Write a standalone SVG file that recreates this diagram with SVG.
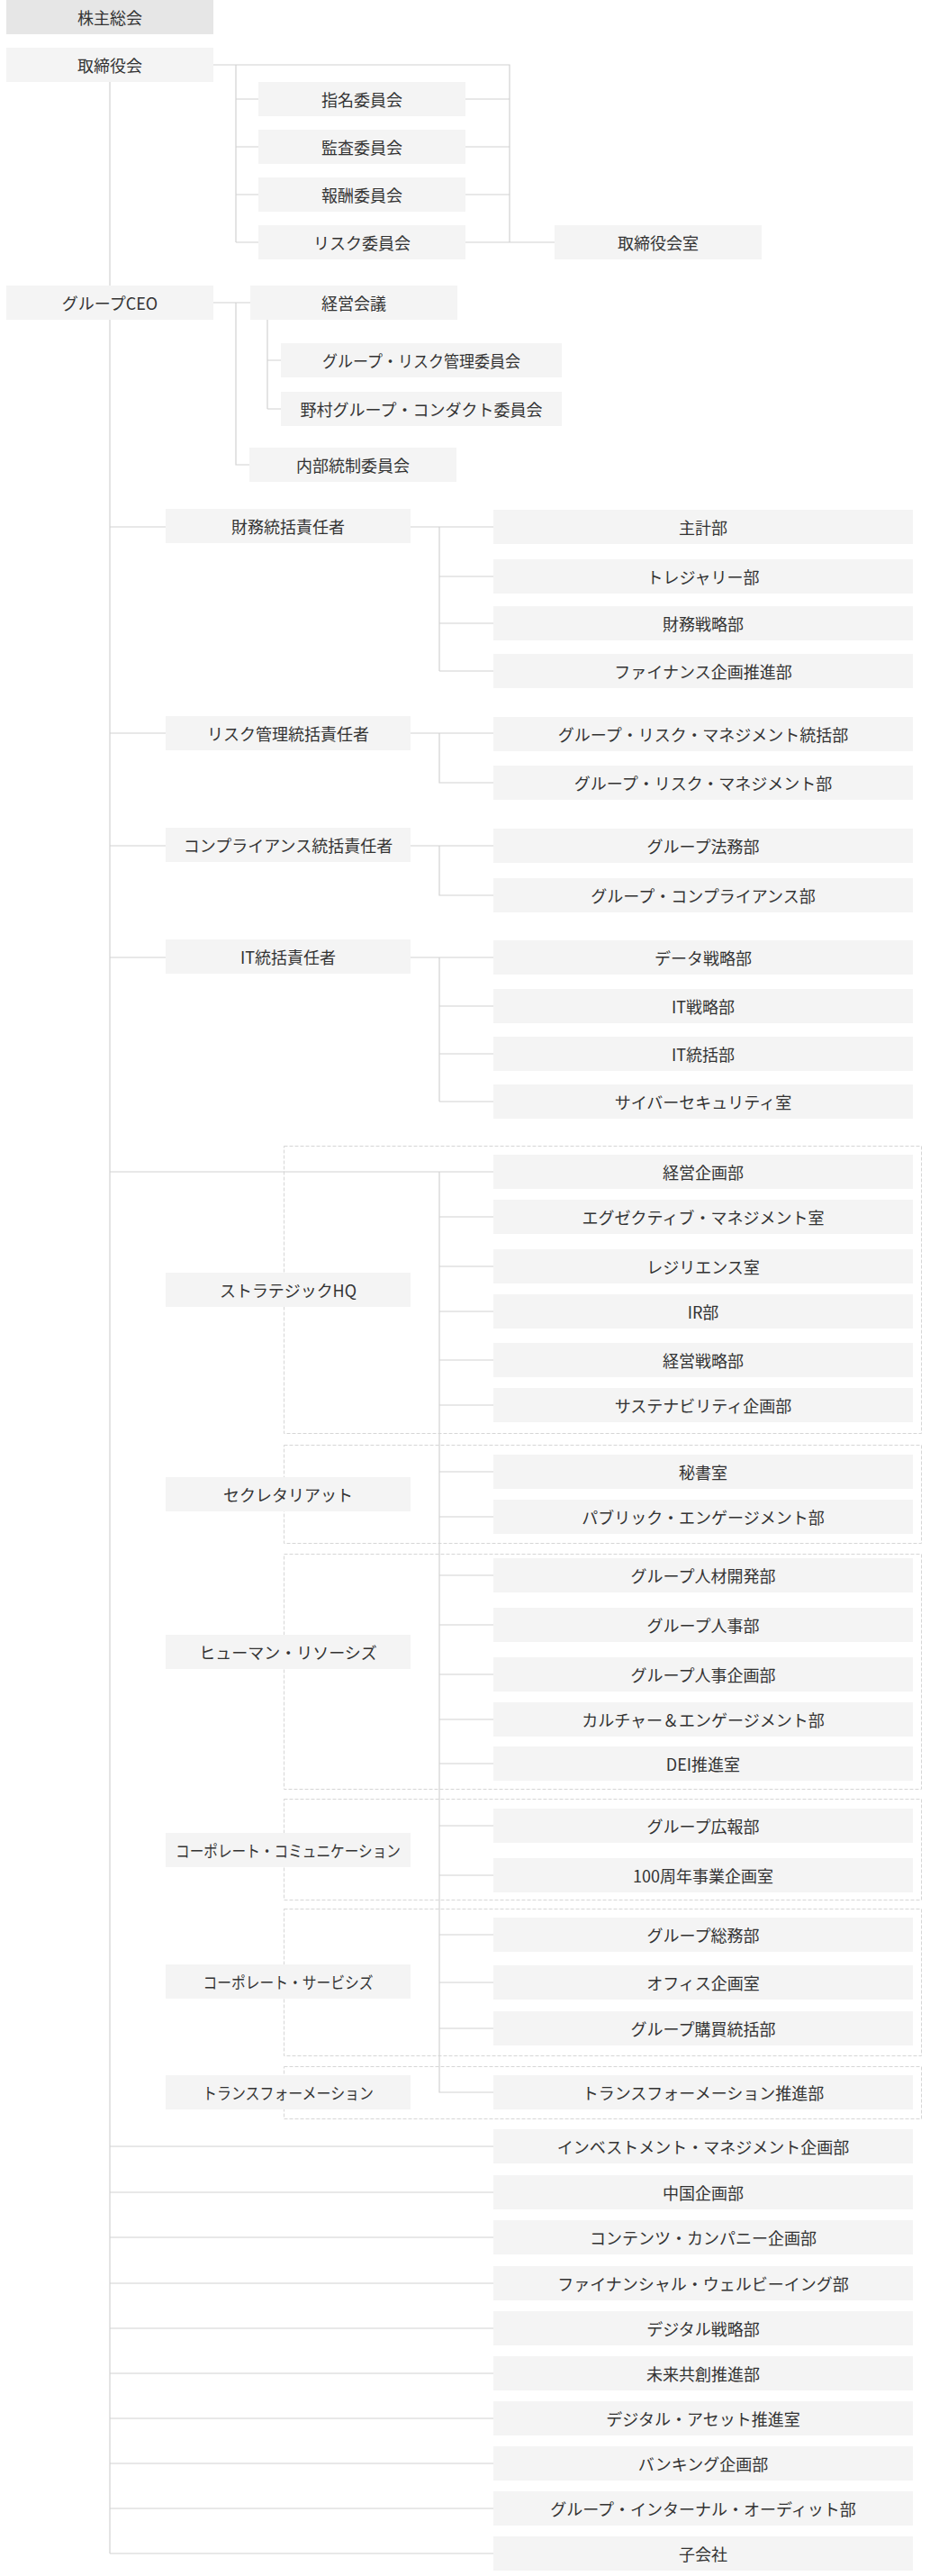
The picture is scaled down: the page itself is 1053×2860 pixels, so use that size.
<svg xmlns="http://www.w3.org/2000/svg" width="1053" height="2860" viewBox="0 0 1053 2860">
<style>
.b{fill:#f4f4f4}
.b0{fill:#e6e6e6}
.t{font-family:"Noto Sans CJK JP","Noto Sans",sans-serif;font-size:18px;fill:#333;text-anchor:middle;dominant-baseline:central}
.c{fill:none;stroke:#d2d2d2;stroke-width:1.2}
.f{fill:none;stroke:#d6d6d6;stroke-width:1;stroke-dasharray:4 2}
</style>
<rect width="1053" height="2860" fill="#fff"/>
<g id="frames">
<rect class="f" x="315.5" y="1272.5" width="708" height="319"/>
<rect class="f" x="315.5" y="1604.5" width="708" height="109"/>
<rect class="f" x="315.5" y="1725.5" width="708" height="261"/>
<rect class="f" x="315.5" y="1997.5" width="708" height="112"/>
<rect class="f" x="315.5" y="2119.5" width="708" height="163"/>
<rect class="f" x="315.5" y="2294.5" width="708" height="58"/>
</g>
<g id="connectors" class="c">
<path d="M237,72H566V269M262,72V269M262,110H287M262,163H287M262,216H287M262,269H287M517,110H566M517,163H566M517,216H566M517,269H616"/>
<path d="M122,91V2835"/>
<path d="M237,336H278M262,336V516H277M297,355V454M297,400H312M297,454H312"/>
<path d="M122,585H184M456,585H548M488,585V745M488,640H548M488,692H548M488,745H548"/>
<path d="M122,814H184M456,814H548M488,814V869H548"/>
<path d="M122,939H184M456,939H548M488,939V994H548"/>
<path d="M122,1063H184M456,1063H548M488,1063V1223M488,1117H548M488,1170H548M488,1223H548"/>
<path d="M122,1301H548M488,1301V2323H548M488,1351H548M488,1406H548M488,1456H548M488,1510H548M488,1560H548M488,1634H548M488,1684H548M488,1749H548M488,1804H548M488,1859H548M488,1909H548M488,1958H548M488,2027H548M488,2082H548M488,2148H548M488,2201H548M488,2252H548"/>
<path d="M122,2383H548M122,2434H548M122,2484H548M122,2535H548M122,2585H548M122,2635H548M122,2685H548M122,2735H548M122,2785H548M122,2835H548"/>
</g>
<g id="n-shareholders"><rect class="b0" x="7" y="0" width="230" height="38"/><text class="t" x="122" y="19">株主総会</text></g>
<g id="n-board"><rect class="b" x="7" y="53" width="230" height="38"/><text class="t" x="122" y="72">取締役会</text></g>
<g id="n-nom"><rect class="b" x="287" y="91" width="230" height="38"/><text class="t" x="402" y="110">指名委員会</text></g>
<g id="n-audit"><rect class="b" x="287" y="144" width="230" height="38"/><text class="t" x="402" y="163">監査委員会</text></g>
<g id="n-comp"><rect class="b" x="287" y="197" width="230" height="38"/><text class="t" x="402" y="216">報酬委員会</text></g>
<g id="n-risk"><rect class="b" x="287" y="250" width="230" height="38"/><text class="t" x="402" y="269">リスク委員会</text></g>
<g id="n-boardoffice"><rect class="b" x="616" y="250" width="230" height="38"/><text class="t" x="731" y="269">取締役会室</text></g>
<g id="n-ceo"><rect class="b" x="7" y="317" width="230" height="38"/><text class="t" x="122" y="336">グループCEO</text></g>
<g id="n-exec"><rect class="b" x="278" y="317" width="230" height="38"/><text class="t" x="393" y="336">経営会議</text></g>
<g id="n-grc"><rect class="b" x="312" y="381" width="312" height="38"/><text class="t" x="468" y="400" textLength="220" lengthAdjust="spacingAndGlyphs">グループ・リスク管理委員会</text></g>
<g id="n-conduct"><rect class="b" x="312" y="435" width="312" height="38"/><text class="t" x="468" y="454">野村グループ・コンダクト委員会</text></g>
<g id="n-internal"><rect class="b" x="277" y="497" width="230" height="38"/><text class="t" x="392" y="516">内部統制委員会</text></g>

<g id="n-cfo"><rect class="b" x="184" y="565" width="272" height="38"/><text class="t" x="320" y="584">財務統括責任者</text></g>
<g id="n-acc"><rect class="b" x="548" y="566" width="466" height="38"/><text class="t" x="781" y="585">主計部</text></g>
<g id="n-tre"><rect class="b" x="548" y="621" width="466" height="38"/><text class="t" x="781" y="640">トレジャリー部</text></g>
<g id="n-fst"><rect class="b" x="548" y="673" width="466" height="38"/><text class="t" x="781" y="692">財務戦略部</text></g>
<g id="n-fpp"><rect class="b" x="548" y="726" width="466" height="38"/><text class="t" x="781" y="745">ファイナンス企画推進部</text></g>

<g id="n-cro"><rect class="b" x="184" y="795" width="272" height="38"/><text class="t" x="320" y="814">リスク管理統括責任者</text></g>
<g id="n-grm1"><rect class="b" x="548" y="796" width="466" height="38"/><text class="t" x="781" y="815">グループ・リスク・マネジメント統括部</text></g>
<g id="n-grm2"><rect class="b" x="548" y="850" width="466" height="38"/><text class="t" x="781" y="869">グループ・リスク・マネジメント部</text></g>

<g id="n-cco"><rect class="b" x="184" y="919" width="272" height="38"/><text class="t" x="320" y="938">コンプライアンス統括責任者</text></g>
<g id="n-legal"><rect class="b" x="548" y="920" width="466" height="38"/><text class="t" x="781" y="939">グループ法務部</text></g>
<g id="n-gcomp"><rect class="b" x="548" y="975" width="466" height="38"/><text class="t" x="781" y="994">グループ・コンプライアンス部</text></g>

<g id="n-cio"><rect class="b" x="184" y="1043" width="272" height="38"/><text class="t" x="320" y="1062">IT統括責任者</text></g>
<g id="n-data"><rect class="b" x="548" y="1044" width="466" height="38"/><text class="t" x="781" y="1063">データ戦略部</text></g>
<g id="n-itst"><rect class="b" x="548" y="1098" width="466" height="38"/><text class="t" x="781" y="1117">IT戦略部</text></g>
<g id="n-itgov"><rect class="b" x="548" y="1151" width="466" height="38"/><text class="t" x="781" y="1170">IT統括部</text></g>
<g id="n-cyber"><rect class="b" x="548" y="1204" width="466" height="38"/><text class="t" x="781" y="1223">サイバーセキュリティ室</text></g>

<g id="n-shq"><rect class="b" x="184" y="1413" width="272" height="38"/><text class="t" x="320" y="1432" textLength="152" lengthAdjust="spacingAndGlyphs">ストラテジックHQ</text></g>
<g id="n-cp"><rect class="b" x="548" y="1282" width="466" height="38"/><text class="t" x="781" y="1301">経営企画部</text></g>
<g id="n-em"><rect class="b" x="548" y="1332" width="466" height="38"/><text class="t" x="781" y="1351">エグゼクティブ・マネジメント室</text></g>
<g id="n-res"><rect class="b" x="548" y="1387" width="466" height="38"/><text class="t" x="781" y="1406">レジリエンス室</text></g>
<g id="n-ir"><rect class="b" x="548" y="1437" width="466" height="38"/><text class="t" x="781" y="1456">IR部</text></g>
<g id="n-cs"><rect class="b" x="548" y="1491" width="466" height="38"/><text class="t" x="781" y="1510">経営戦略部</text></g>
<g id="n-sus"><rect class="b" x="548" y="1541" width="466" height="38"/><text class="t" x="781" y="1560">サステナビリティ企画部</text></g>

<g id="n-sec"><rect class="b" x="184" y="1640" width="272" height="38"/><text class="t" x="320" y="1659">セクレタリアット</text></g>
<g id="n-hisho"><rect class="b" x="548" y="1615" width="466" height="38"/><text class="t" x="781" y="1634">秘書室</text></g>
<g id="n-pe"><rect class="b" x="548" y="1665" width="466" height="38"/><text class="t" x="781" y="1684">パブリック・エンゲージメント部</text></g>

<g id="n-hr"><rect class="b" x="184" y="1815" width="272" height="38"/><text class="t" x="320" y="1834">ヒューマン・リソーシズ</text></g>
<g id="n-hrd"><rect class="b" x="548" y="1730" width="466" height="38"/><text class="t" x="781" y="1749">グループ人材開発部</text></g>
<g id="n-ghr"><rect class="b" x="548" y="1785" width="466" height="38"/><text class="t" x="781" y="1804">グループ人事部</text></g>
<g id="n-hrp"><rect class="b" x="548" y="1840" width="466" height="38"/><text class="t" x="781" y="1859">グループ人事企画部</text></g>
<g id="n-ce"><rect class="b" x="548" y="1890" width="466" height="38"/><text class="t" x="781" y="1909">カルチャー＆エンゲージメント部</text></g>
<g id="n-dei"><rect class="b" x="548" y="1939" width="466" height="38"/><text class="t" x="781" y="1958">DEI推進室</text></g>

<g id="n-cc"><rect class="b" x="184" y="2035" width="272" height="38"/><text class="t" x="320" y="2054" textLength="250" lengthAdjust="spacingAndGlyphs">コーポレート・コミュニケーション</text></g>
<g id="n-pr"><rect class="b" x="548" y="2008" width="466" height="38"/><text class="t" x="781" y="2027">グループ広報部</text></g>
<g id="n-100"><rect class="b" x="548" y="2063" width="466" height="38"/><text class="t" x="781" y="2082">100周年事業企画室</text></g>

<g id="n-csv"><rect class="b" x="184" y="2181" width="272" height="38"/><text class="t" x="320" y="2200" textLength="189" lengthAdjust="spacingAndGlyphs">コーポレート・サービシズ</text></g>
<g id="n-ga"><rect class="b" x="548" y="2129" width="466" height="38"/><text class="t" x="781" y="2148">グループ総務部</text></g>
<g id="n-office"><rect class="b" x="548" y="2182" width="466" height="38"/><text class="t" x="781" y="2201">オフィス企画室</text></g>
<g id="n-proc"><rect class="b" x="548" y="2233" width="466" height="38"/><text class="t" x="781" y="2252">グループ購買統括部</text></g>

<g id="n-tf"><rect class="b" x="184" y="2304" width="272" height="38"/><text class="t" x="320" y="2323" textLength="190" lengthAdjust="spacingAndGlyphs">トランスフォーメーション</text></g>
<g id="n-tfp"><rect class="b" x="548" y="2304" width="466" height="38"/><text class="t" x="781" y="2323">トランスフォーメーション推進部</text></g>

<g id="n-im"><rect class="b" x="548" y="2364" width="466" height="38"/><text class="t" x="781" y="2383">インベストメント・マネジメント企画部</text></g>
<g id="n-china"><rect class="b" x="548" y="2415" width="466" height="38"/><text class="t" x="781" y="2434">中国企画部</text></g>
<g id="n-content"><rect class="b" x="548" y="2465" width="466" height="38"/><text class="t" x="781" y="2484">コンテンツ・カンパニー企画部</text></g>
<g id="n-fw"><rect class="b" x="548" y="2516" width="466" height="38"/><text class="t" x="781" y="2535">ファイナンシャル・ウェルビーイング部</text></g>
<g id="n-dig"><rect class="b" x="548" y="2566" width="466" height="38"/><text class="t" x="781" y="2585">デジタル戦略部</text></g>
<g id="n-future"><rect class="b" x="548" y="2616" width="466" height="38"/><text class="t" x="781" y="2635">未来共創推進部</text></g>
<g id="n-da"><rect class="b" x="548" y="2666" width="466" height="38"/><text class="t" x="781" y="2685">デジタル・アセット推進室</text></g>
<g id="n-bank"><rect class="b" x="548" y="2716" width="466" height="38"/><text class="t" x="781" y="2735">バンキング企画部</text></g>
<g id="n-gia"><rect class="b" x="548" y="2766" width="466" height="38"/><text class="t" x="781" y="2785">グループ・インターナル・オーディット部</text></g>
<g id="n-sub"><rect class="b" x="548" y="2816" width="466" height="38"/><text class="t" x="781" y="2835">子会社</text></g>
</svg>
